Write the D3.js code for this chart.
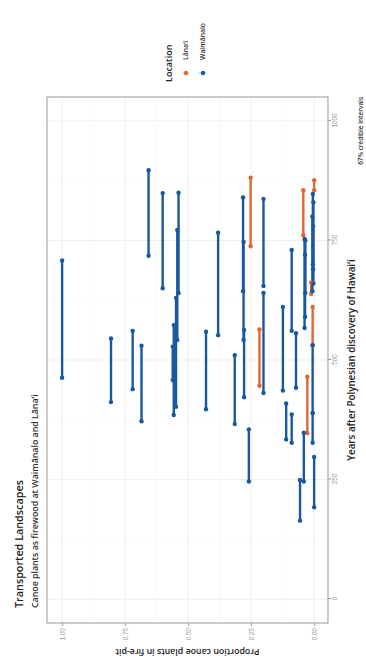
<!DOCTYPE html>
<html>
<head>
<meta charset="utf-8">
<script src="https://cdn.jsdelivr.net/npm/d3@7"></script>
<style>
  html, body { margin: 0; padding: 0; background: #fff; }
  svg { display: block; font-family: "Open Sans", "Noto Sans", sans-serif; }
</style>
</head>
<body>
<div id="chart"></div>
<script>
// tick labels
const yearTicks = [0, 250, 500, 750, 1000];
const propTicks = [0, 0.25, 0.5, 0.75, 1];

const locations = ['Lānaʻi', 'Waimānalo'];
const locationColors = ['#e0672f', '#17589f'];

// Lānaʻi fire-pits: proportion, interval start and end (years)
const lanaiProp = [0.252, 0.217, 0.043, 0.027, 0.006, 0.000, 0.012];
const lanaiFrom = [738, 446, 761, 347, 531, 855, 638];
const lanaiTo   = [881, 564, 855, 465, 611, 876, 662];

// Waimānalo fire-pits
const waimanaloProp = [1.00, 0.806, 0.720, 0.685, 0.657, 0.601, 0.538, 0.543, 0.548, 0.557,
  0.561, 0.429, 0.381, 0.315, 0.282, 0.280, 0.278, 0.259, 0.201, 0.201,
  0.124, 0.111, 0.089, 0.089, 0.072, 0.056, 0.041, 0.038, 0.035, 0.036,
  0.005, 0.003, 0.007, 0.004, 0.006, 0.006, 0.000];
const waimanaloFrom = [463, 412, 439, 372, 718, 650, 640, 542, 402, 385,
  458, 397, 552, 366, 644, 542, 422, 246, 655, 431,
  436, 334, 561, 327, 442, 164, 246, 567, 640, 590,
  700, 660, 644, 690, 389, 327, 192];
const waimanaloTo = [708, 545, 561, 530, 897, 849, 850, 772, 630, 573,
  528, 559, 766, 510, 840, 747, 563, 355, 837, 640,
  611, 409, 730, 386, 556, 249, 348, 753, 750, 720,
  847, 830, 800, 780, 531, 389, 297];

const W = 660, H = 366;   // chart drawn landscape, then turned a quarter left
const panel = { left: 37, right: 563, top: 47, bottom: 328 };

const rows = [];
lanaiProp.forEach((p, i) => rows.push({ loc: locations[0], p: p, from: lanaiFrom[i], to: lanaiTo[i] }));
waimanaloProp.forEach((p, i) => rows.push({ loc: locations[1], p: p, from: waimanaloFrom[i], to: waimanaloTo[i] }));

const color = d3.scaleOrdinal().domain(locations).range(locationColors);

const x = d3.scaleLinear().domain([-50, 1050]).range([panel.left, panel.right]);
const y = d3.scaleLinear().domain([-0.055, 1.06]).range([panel.bottom, panel.top]);

const svg = d3.select('#chart').append('svg')
  .attr('width', H)
  .attr('height', W);

const g = svg.append('g')
  .attr('transform', `translate(0,${W}) rotate(-90)`);

// panel + grid
g.append('rect')
  .attr('x', panel.left).attr('y', panel.top)
  .attr('width', panel.right - panel.left).attr('height', panel.bottom - panel.top)
  .attr('fill', '#fff');

const minorYears = d3.range(-125, 1126, 250).filter(v => v > -50 && v < 1050);
const minorProps = [0.125, 0.375, 0.625, 0.875];

g.append('g').selectAll('line.gx')
  .data(yearTicks.concat(minorYears))
  .enter().append('line')
  .attr('x1', d => x(d)).attr('x2', d => x(d))
  .attr('y1', panel.top).attr('y2', panel.bottom)
  .attr('stroke', (d, i) => i < yearTicks.length ? '#ebebeb' : '#f5f5f5')
  .attr('stroke-width', (d, i) => i < yearTicks.length ? 0.8 : 0.5);

g.append('g').selectAll('line.gy')
  .data(propTicks.concat(minorProps))
  .enter().append('line')
  .attr('x1', panel.left).attr('x2', panel.right)
  .attr('y1', d => y(d)).attr('y2', d => y(d))
  .attr('stroke', (d, i) => i < propTicks.length ? '#ebebeb' : '#f5f5f5')
  .attr('stroke-width', (d, i) => i < propTicks.length ? 0.8 : 0.5);

// axes
const xAxis = g.append('g')
  .attr('transform', `translate(0,${panel.bottom})`)
  .call(d3.axisBottom(x).tickValues(yearTicks).tickSize(3).tickPadding(2).tickFormat(d3.format('d')));

const yAxis = g.append('g')
  .attr('transform', `translate(${panel.left},0)`)
  .call(d3.axisLeft(y).tickValues(propTicks).tickSize(3).tickPadding(2).tickFormat(d3.format('.2f')));

[xAxis, yAxis].forEach(a => {
  a.select('.domain').remove();
  a.selectAll('.tick line').attr('stroke', '#9a9a9a');
  a.selectAll('.tick text').attr('fill', '#9a9a9a').style('font-size', '6.3px');
});

g.append('rect')
  .attr('x', panel.left).attr('y', panel.top)
  .attr('width', panel.right - panel.left).attr('height', panel.bottom - panel.top)
  .attr('fill', 'none')
  .attr('stroke', '#8c8c8c')
  .attr('stroke-width', 0.9);

// intervals
const marks = g.append('g');

marks.selectAll('line.interval')
  .data(rows)
  .enter().append('line')
  .attr('class', 'interval')
  .attr('x1', d => x(d.from)).attr('x2', d => x(d.to))
  .attr('y1', d => y(d.p)).attr('y2', d => y(d.p))
  .attr('stroke', d => color(d.loc))
  .attr('stroke-width', 2.4);

const ends = rows.flatMap(d => [{ loc: d.loc, p: d.p, t: d.from }, { loc: d.loc, p: d.p, t: d.to }]);

marks.selectAll('circle.end')
  .data(ends)
  .enter().append('circle')
  .attr('class', 'end')
  .attr('cx', d => x(d.t)).attr('cy', d => y(d.p))
  .attr('r', 2.2)
  .attr('fill', d => color(d.loc));

// titles
g.append('text')
  .attr('x', 52).attr('y', 23)
  .attr('fill', '#222')
  .style('font-size', '10.8px').style('font-weight', 600)
  .text('Transported Landscapes');

g.append('text')
  .attr('x', 52).attr('y', 38)
  .attr('fill', '#333')
  .style('font-size', '8.8px').style('font-weight', 600)
  .text('Canoe plants as firewood at Waimānalo and Lānaʻi');

g.append('text')
  .attr('x', (panel.left + panel.right) / 2).attr('y', 355)
  .attr('text-anchor', 'middle')
  .attr('fill', '#222')
  .style('font-size', '9.8px').style('font-weight', 600)
  .text('Years after Polynesian discovery of Hawaiʻi');

g.append('text')
  .attr('transform', `translate(11,${(panel.top + panel.bottom) / 2}) rotate(-90)`)
  .attr('text-anchor', 'middle')
  .attr('fill', '#222')
  .style('font-size', '8.8px').style('font-weight', 600)
  .text('Proportion canoe plants in fire-pit');

g.append('text')
  .attr('x', panel.right).attr('y', 363)
  .attr('text-anchor', 'end')
  .attr('fill', '#333')
  .style('font-size', '6.4px').style('font-weight', 600)
  .text('67% credible intervals');

// legend
const legend = g.append('g').attr('transform', 'translate(578,0)');

legend.append('text')
  .attr('x', 0).attr('y', 172)
  .attr('fill', '#222')
  .style('font-size', '9px').style('font-weight', 600)
  .text('Location');

const item = legend.selectAll('g.item')
  .data(locations)
  .enter().append('g')
  .attr('class', 'item')
  .attr('transform', (d, i) => `translate(0,${186 + i * 17})`);

item.append('line')
  .attr('x1', 9).attr('x2', 9).attr('y1', -4).attr('y2', 4)
  .attr('stroke', d => color(d)).attr('stroke-width', 1).attr('opacity', 0.35);

item.append('circle')
  .attr('cx', 9).attr('cy', 0).attr('r', 2.2)
  .attr('fill', d => color(d));

item.append('text')
  .attr('x', 22).attr('y', 2.3)
  .attr('fill', '#333')
  .style('font-size', '6.8px').style('font-weight', 600)
  .text(d => d);
</script>
</body>
</html>
